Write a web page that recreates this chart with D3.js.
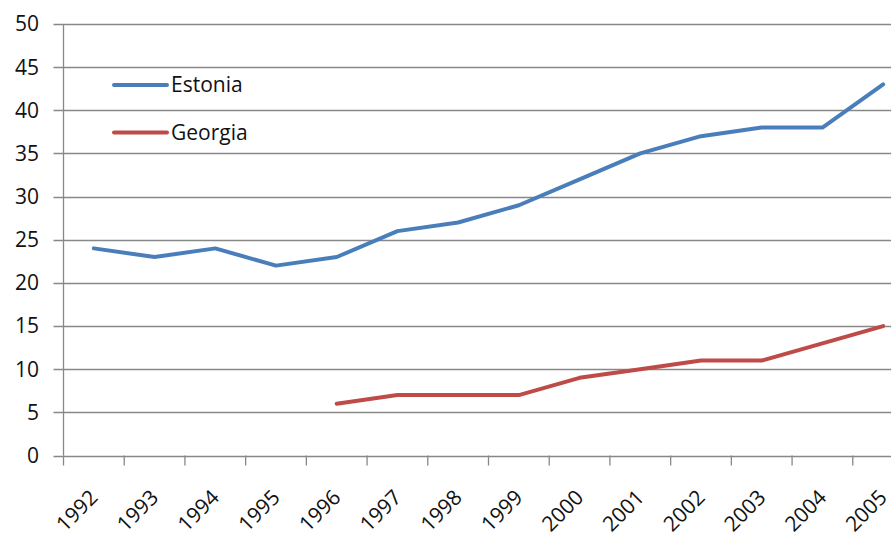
<!DOCTYPE html>
<html>
<head>
<meta charset="utf-8">
<script src="https://cdn.jsdelivr.net/npm/d3@7"></script>
<style>
	body { margin: 0; background: #fff; }
	svg { display: block; font-family: "Open Sans", sans-serif; }
</style>
</head>
<body>
<svg width="891" height="543"></svg>
<script>
// --- Data ---
const years = ["1992", "1993", "1994", "1995", "1996", "1997", "1998", "1999", "2000", "2001", "2002", "2003", "2004", "2005"];
const estonia = [24, 23, 24, 22, 23, 26, 27, 29, 32, 35, 37, 38, 38, 43];
const georgia = [null, null, null, null, 6, 7, 7, 7, 9, 10, 11, 11, 13, 15];
const yTicks = [0, 5, 10, 15, 20, 25, 30, 35, 40, 45, 50];

const series = [
	{ name: "Estonia", values: estonia, color: "#4A7EBB" },
	{ name: "Georgia", values: georgia, color: "#BE4B48" }
];

const svg = d3.select("svg");
const plotLeft = 63.5, plotRight = 913.5; // plot area runs past the picture edge
const plotTop = 24, plotBottom = 455.5;

const x = d3.scaleBand().domain(years).range([plotLeft, plotRight]);
const y = d3.scaleLinear().domain([0, 50]).range([plotBottom, plotTop]);

// gridlines + y labels
const grid = svg.append("g");
grid.selectAll("line")
	.data(yTicks)
	.enter()
	.append("line")
	.attr("x1", plotLeft - 10)
	.attr("x2", plotRight)
	.attr("y1", (d) => Math.round(y(d)) + 0.5)
	.attr("y2", (d) => Math.round(y(d)) + 0.5)
	.attr("stroke", "#888")
	.attr("stroke-width", 1.3);

grid.selectAll("text")
	.data(yTicks)
	.enter()
	.append("text")
	.attr("x", 39)
	.attr("y", (d) => y(d))
	.attr("dy", "0.35em")
	.attr("text-anchor", "end")
	.attr("font-size", 21)
	.attr("fill", "#111")
	.text((d) => d);

// y axis line
svg.append("line")
	.attr("x1", plotLeft).attr("x2", plotLeft)
	.attr("y1", plotTop).attr("y2", plotBottom)
	.attr("stroke", "#888").attr("stroke-width", 1.3);

// x ticks at category boundaries
const boundaries = years.map((d) => x(d)).concat([plotRight]);
svg.append("g")
	.selectAll("line")
	.data(boundaries)
	.enter()
	.append("line")
	.attr("x1", (d) => d).attr("x2", (d) => d)
	.attr("y1", plotBottom).attr("y2", plotBottom + 10)
	.attr("stroke", "#888").attr("stroke-width", 1.3);

// x labels, rotated
svg.append("g")
	.selectAll("text")
	.data(years)
	.enter()
	.append("text")
	.attr("transform", (d) => `translate(${x(d) + x.bandwidth() / 2},${plotBottom + 38}) rotate(-45)`)
	.attr("text-anchor", "end")
	.attr("dy", "0.35em")
	.attr("font-size", 21)
	.attr("fill", "#111")
	.text((d) => d);

// lines
const line = d3.line()
	.defined((d) => d != null)
	.x((d, i) => x(years[i]) + x.bandwidth() / 2)
	.y((d) => y(d));

svg.append("g")
	.selectAll("path")
	.data(series)
	.enter()
	.append("path")
	.attr("d", (d) => line(d.values))
	.attr("fill", "none")
	.attr("stroke", (d) => d.color)
	.attr("stroke-width", 4)
	.attr("stroke-linejoin", "round")
	.attr("stroke-linecap", "round");

// legend
const legend = svg.append("g")
	.selectAll("g")
	.data(series)
	.enter()
	.append("g")
	.attr("transform", (d, i) => `translate(114,${85 + i * 47.5})`);

legend.append("line")
	.attr("x1", 0).attr("x2", 53)
	.attr("stroke", (d) => d.color)
	.attr("stroke-width", 4)
	.attr("stroke-linecap", "round");

legend.append("text")
	.attr("x", 57)
	.attr("dy", "0.35em")
	.attr("font-size", 21)
	.attr("fill", "#111")
	.text((d) => d.name);
</script>
</body>
</html>
